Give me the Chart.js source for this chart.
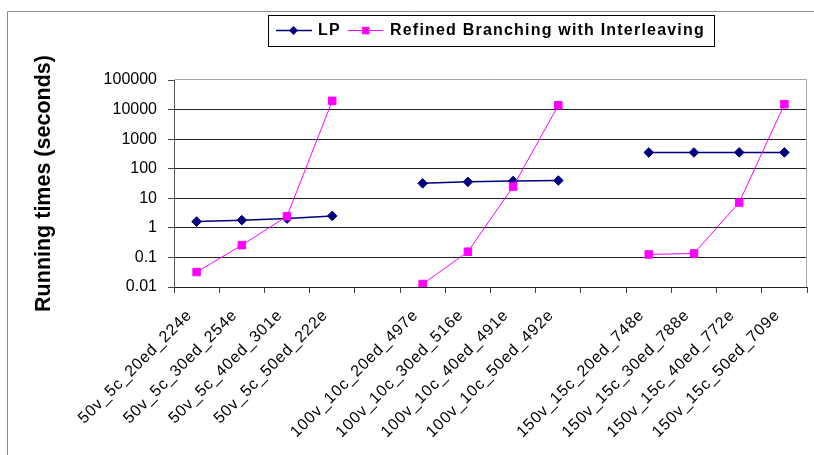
<!DOCTYPE html>
<html>
<head>
<meta charset="utf-8">
<script src="https://cdn.jsdelivr.net/npm/chart.js@4.4.1/dist/chart.umd.min.js"></script>
<style>
html,body{margin:0;padding:0;background:#ffffff;}
#wrap{width:814px;height:455px;position:relative;overflow:hidden;}
canvas{display:block;}
</style>
</head>
<body>
<div id="wrap"><canvas id="c" width="814" height="455"></canvas></div>
<script>
// ---- data ----
const categories = [
  '50v_5c_20ed_224e', '50v_5c_30ed_254e', '50v_5c_40ed_301e', '50v_5c_50ed_222e', '',
  '100v_10c_20ed_497e', '100v_10c_30ed_516e', '100v_10c_40ed_491e', '100v_10c_50ed_492e', '',
  '150v_15c_20ed_748e', '150v_15c_30ed_788e', '150v_15c_40ed_772e', '150v_15c_50ed_709e'
];
const lpTimes = [1.63, 1.82, 2.06, 2.54, null, 32, 36, 38.5, 40, null, 355, 355, 356, 356];
const rbiTimes = [0.032, 0.26, 2.48, 19700, null, 0.0126, 0.156, 24.8, 14000, null, 0.126, 0.136, 7.2, 15100];
const seriesNames = ['LP', 'Refined Branching with Interleaving'];
const yTickValues = [0.01, 0.1, 1, 10, 100, 1000, 10000, 100000];
const yTickLabels = ['0.01', '0.1', '1', '10', '100', '1000', '10000', '100000'];
const yAxisTitle = 'Running times (seconds)';

const LP_COLOR = '#000080';
const RBI_COLOR = '#FF00FF';
const FONT = "'Liberation Sans', Arial, sans-serif";

const decorPlugin = {
  id: 'decor',
  beforeDraw(chart) {
    const s = chart.scales.x;
    if (s && !s.__ls) {
      const orig = s.drawLabels;
      s.drawLabels = function (a) {
        const c = this.ctx;
        c.save();
        c.letterSpacing = '0.8px';
        orig.call(this, a);
        c.restore();
      };
      s.__ls = true;
    }
  },
  afterDraw(chart) {
    const ctx = chart.ctx;
    const a = chart.chartArea;
    ctx.save();
    // plot area top/right border
    ctx.strokeStyle = '#a6a6a6';
    ctx.lineWidth = 1;
    ctx.beginPath();
    ctx.moveTo(Math.round(a.left) + 0.5, Math.round(a.top) - 0.5);
    ctx.lineTo(Math.round(a.right) - 0.5, Math.round(a.top) - 0.5);
    ctx.lineTo(Math.round(a.right) - 0.5, Math.round(a.bottom));
    ctx.stroke();
    // outer chart frame
    ctx.strokeStyle = '#8a8a8a';
    ctx.beginPath();
    ctx.moveTo(7.5, 455);
    ctx.lineTo(7.5, 11.5);
    ctx.lineTo(814, 11.5);
    ctx.stroke();
    // legend
    ctx.strokeStyle = '#000';
    ctx.lineWidth = 1;
    ctx.strokeRect(268.5, 15.5, 446, 31);
    const ly = 30.5;
    // LP entry
    ctx.strokeStyle = LP_COLOR;
    ctx.lineWidth = 1.5;
    ctx.beginPath(); ctx.moveTo(276, ly); ctx.lineTo(312, ly); ctx.stroke();
    ctx.fillStyle = LP_COLOR;
    ctx.beginPath();
    ctx.moveTo(293.5, ly - 4.5); ctx.lineTo(298, ly); ctx.lineTo(293.5, ly + 4.5); ctx.lineTo(289, ly);
    ctx.closePath(); ctx.fill();
    // RBI entry
    ctx.strokeStyle = RBI_COLOR;
    ctx.lineWidth = 1;
    ctx.beginPath(); ctx.moveTo(348, ly); ctx.lineTo(383, ly); ctx.stroke();
    ctx.fillStyle = RBI_COLOR;
    ctx.fillRect(362, ly - 3.75, 7.5, 7.5);
    // legend texts
    ctx.fillStyle = '#000';
    ctx.font = 'bold 16px ' + FONT;
    ctx.textBaseline = 'middle';
    ctx.textAlign = 'left';
    ctx.letterSpacing = '1.2px';
    ctx.fillText(seriesNames[0], 318, ly + 0.5);
    ctx.fillText(seriesNames[1], 390, ly + 0.5);
    ctx.restore();
  }
};

new Chart(document.getElementById('c'), {
  type: 'line',
  data: {
    labels: categories,
    datasets: [
      {
        label: seriesNames[0],
        data: lpTimes,
        borderColor: LP_COLOR,
        backgroundColor: LP_COLOR,
        borderWidth: 1.5,
        pointStyle: 'rectRot',
        pointRadius: 4.8,
        pointBorderWidth: 1,
        pointBackgroundColor: LP_COLOR,
        pointBorderColor: LP_COLOR,
        tension: 0,
        spanGaps: false,
        order: 1
      },
      {
        label: seriesNames[1],
        data: rbiTimes,
        borderColor: RBI_COLOR,
        backgroundColor: RBI_COLOR,
        borderWidth: 1,
        pointStyle: 'rect',
        pointRadius: 5.3,
        pointBorderWidth: 1,
        pointBackgroundColor: RBI_COLOR,
        pointBorderColor: RBI_COLOR,
        tension: 0,
        spanGaps: false,
        order: 0
      }
    ]
  },
  options: {
    responsive: false,
    animation: false,
    devicePixelRatio: 1,
    layout: { padding: { top: 80, right: 7, left: 0, bottom: 0 } },
    plugins: {
      legend: { display: false },
      tooltip: { enabled: false },
      title: { display: false }
    },
    scales: {
      x: {
        type: 'category',
        offset: true,
        grid: {
          offset: true,
          drawOnChartArea: false,
          drawTicks: true,
          tickLength: 6,
          tickColor: '#444',
          color: '#444'
        },
        border: { display: true, color: '#222', width: 1 },
        ticks: {
          autoSkip: false,
          minRotation: 45,
          maxRotation: 45,
          padding: 13,
          labelOffset: -7,
          color: '#000',
          font: { family: FONT, size: 16 }
        },
        afterFit(s) { s.height = 168; s.paddingLeft = 0; s.paddingRight = 0; }
      },
      y: {
        type: 'logarithmic',
        min: 0.01,
        max: 100000,
        afterBuildTicks(s) { s.ticks = yTickValues.map(v => ({ value: v })); },
        ticks: {
          padding: 11,
          color: '#000',
          font: { family: FONT, size: 16 },
          callback: (v) => { const i = yTickValues.indexOf(v); return i >= 0 ? yTickLabels[i] : ''; }
        },
        grid: {
          color: (ctx) => (ctx.tick && ctx.tick.value === 100000) ? 'rgba(0,0,0,0)' : '#222',
          tickColor: '#444',
          tickLength: 6,
          lineWidth: 1,
          drawTicks: true
        },
        border: { display: true, color: '#555', width: 1 },
        title: {
          display: true,
          text: yAxisTitle,
          color: '#000',
          font: { family: FONT, size: 21.5, weight: 'bold' },
          padding: { top: 31, bottom: 0 }
        },
        afterFit(s) { s.width = 174; s.paddingTop = 0; s.paddingBottom = 0; }
      }
    }
  },
  plugins: [decorPlugin]
});
</script>
</body>
</html>
